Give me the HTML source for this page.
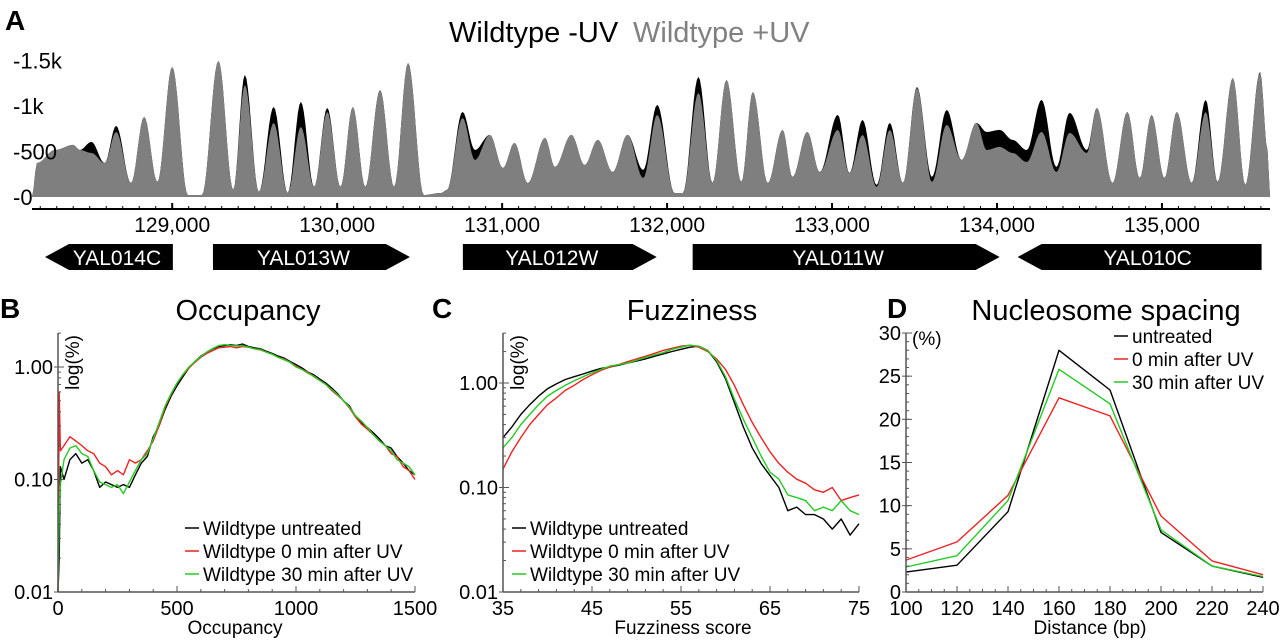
<!DOCTYPE html>
<html><head><meta charset="utf-8"><style>
body{margin:0;background:#fff;}
svg{display:block;font-family:"Liberation Sans",Arial,sans-serif;}
</style></head><body>
<svg id="fig" width="1280" height="640" viewBox="0 0 1280 640" xmlns="http://www.w3.org/2000/svg">
<g id="pA"></g>
<g id="pB"></g>
<g id="pC"></g>
<g id="pD"></g>
</svg>
<script>
// ---------- Panel A data ----------
const trackCoords=[128150,128180,128290,128400,128440,128510,128590,128660,128750,128830,128910,129000,129095,129180,129280,129370,129440,129525,129615,129700,129780,129860,129940,130020,130095,130170,130260,130345,130430,130525,130630,130665,130760,130835,130925,131005,131075,131155,131260,131320,131420,131500,131580,131670,131760,131855,131940,132045,132095,132190,132275,132360,132450,132520,132610,132700,132760,132850,132925,133035,133105,133185,133270,133350,133430,133515,133605,133695,133785,133875,133937,134016,134095,134180,134270,134360,134440,134545,134605,134700,134790,134865,134937,135015,135090,135180,135265,135337,135430,135505,135595,135640,135655];
const plusUV=[0,374,517,572,517,484,374,715,154,880,165,1430,22,22,1496,77,1232,55,814,44,770,110,935,110,990,110,1177,110,1474,22,44,77,869,407,682,319,594,154,649,330,682,352,627,275,682,209,902,44,44,1144,154,1287,165,1155,154,737,220,715,275,737,264,682,110,737,154,1199,165,792,407,814,517,550,484,385,715,275,704,484,979,154,935,209,902,209,935,154,935,165,1309,132,1364,517,0];
const minusUV=[0,374,517,572,517,605,374,781,154,880,165,1430,22,22,1496,77,1342,55,990,44,1045,110,979,110,990,110,1177,110,1474,22,44,77,935,517,682,319,594,154,649,330,682,352,627,275,682,297,1012,44,44,1320,154,1287,165,1155,154,737,220,715,275,902,264,847,132,814,154,1210,220,957,407,814,715,737,627,517,1067,330,924,517,979,154,935,209,902,209,935,154,1067,165,1309,132,1375,517,0];
const trackTicks=[129000,130000,131000,132000,133000,134000,135000];
const trackTickLabels=["129,000","130,000","131,000","132,000","133,000","134,000","135,000"];
const yTicksA=[0,500,1000,1500];
const yTickLabelsA=["-0","-500","-1k","-1.5k"];
const geneNames=["YAL014C","YAL013W","YAL012W","YAL011W","YAL010C"];
const geneStarts=[128229,129247,130762,132155,134125];
const geneEnds=[129004,130441,131937,134016,135604];
const geneStrand=["-","+","+","+","-"];
// ---------- Panel B data ----------
const occX=[0,5,10,25,50,75,100,125,150,175,200,225,250,275,300,325,350,375,400,425,450,475,500,525,550,575,600,625,650,675,700,725,750,775,800,825,850,875,900,925,950,975,1000,1025,1050,1075,1100,1125,1150,1175,1200,1225,1250,1275,1300,1325,1350,1375,1400,1425,1450,1475,1500];
const occUntreated=[0.01,0.02,0.13,0.10,0.15,0.17,0.14,0.15,0.12,0.085,0.095,0.09,0.085,0.09,0.085,0.11,0.14,0.16,0.24,0.3,0.42,0.55,0.68,0.82,0.98,1.12,1.25,1.35,1.45,1.52,1.55,1.58,1.55,1.6,1.52,1.48,1.45,1.38,1.32,1.25,1.2,1.12,1.05,0.98,0.9,0.85,0.78,0.72,0.65,0.58,0.5,0.45,0.36,0.32,0.29,0.26,0.23,0.2,0.19,0.16,0.14,0.12,0.11];
const occUV0=[0.01,0.6,0.18,0.2,0.24,0.22,0.2,0.18,0.17,0.14,0.13,0.11,0.12,0.11,0.15,0.14,0.15,0.18,0.22,0.3,0.44,0.57,0.72,0.85,0.98,1.1,1.22,1.32,1.4,1.48,1.5,1.52,1.48,1.52,1.5,1.45,1.42,1.36,1.3,1.22,1.18,1.1,1.02,0.95,0.9,0.82,0.76,0.7,0.62,0.56,0.5,0.43,0.36,0.31,0.28,0.25,0.22,0.2,0.17,0.16,0.13,0.12,0.10];
const occUV30=[0.01,0.05,0.09,0.15,0.19,0.2,0.17,0.16,0.12,0.095,0.09,0.085,0.09,0.075,0.095,0.12,0.15,0.17,0.23,0.32,0.45,0.58,0.72,0.86,1.0,1.12,1.24,1.36,1.46,1.55,1.58,1.56,1.54,1.55,1.5,1.45,1.43,1.35,1.3,1.22,1.16,1.1,1.0,0.95,0.88,0.83,0.76,0.7,0.63,0.57,0.5,0.44,0.37,0.33,0.29,0.25,0.22,0.2,0.18,0.15,0.14,0.13,0.11];
// ---------- Panel C data ----------
const fuzzX=[35,36,37,38,39,40,41,42,43,44,45,46,47,48,49,50,51,52,53,54,55,56,57,58,59,60,61,62,63,64,65,66,67,68,69,70,71,72,73,74,75];
const fuzzUntreated=[0.30,0.38,0.5,0.62,0.75,0.88,0.98,1.08,1.15,1.22,1.3,1.38,1.42,1.48,1.55,1.62,1.7,1.8,1.9,2.0,2.1,2.2,2.25,2.05,1.6,1.1,0.65,0.38,0.24,0.17,0.13,0.10,0.06,0.065,0.055,0.055,0.05,0.04,0.05,0.035,0.045];
const fuzzUV0=[0.15,0.22,0.3,0.4,0.5,0.62,0.72,0.85,0.95,1.08,1.2,1.32,1.42,1.5,1.6,1.7,1.8,1.92,2.05,2.15,2.25,2.3,2.2,2.0,1.7,1.35,0.95,0.62,0.42,0.3,0.22,0.17,0.14,0.12,0.11,0.095,0.09,0.10,0.075,0.08,0.085];
const fuzzUV30=[0.24,0.3,0.4,0.5,0.62,0.75,0.85,0.95,1.05,1.15,1.25,1.35,1.45,1.5,1.55,1.65,1.75,1.85,1.95,2.1,2.2,2.3,2.25,2.05,1.65,1.15,0.7,0.45,0.3,0.2,0.14,0.12,0.085,0.08,0.075,0.06,0.065,0.06,0.075,0.06,0.055];
// ---------- Panel D data ----------
const spacingX=[100,120,140,160,180,200,220,240];
const spacingUntreated=[2.3,3.1,9.3,28,23.4,6.9,3.0,1.7];
const spacingUV0=[3.7,5.8,11.2,22.5,20.4,8.8,3.6,2.0];
const spacingUV30=[2.9,4.2,10.6,25.8,21.8,7.2,3.0,1.8];
const legendLabelsBC=["Wildtype untreated","Wildtype 0 min after UV","Wildtype 30 min after UV"];
const legendLabelsD=["untreated","0 min after UV","30 min after UV"];

const NS="http://www.w3.org/2000/svg";
function mk(parent,tag,attrs,text){const e=document.createElementNS(NS,tag);for(const k in attrs)e.setAttribute(k,attrs[k]);if(text!==undefined)e.textContent=text;parent.appendChild(e);return e;}

// ===== Panel A =====
(function(){
const g=document.getElementById('pA');
const x0=32,x1=1270,c0=128150,c1=135655,base=197,pxPer=45.5/500;
const X=c=>x0+(c-c0)/(c1-c0)*(x1-x0);
const Y=v=>base-v*pxPer;
let t;
t=mk(g,'text',{x:5,y:30,'font-size':28,'font-weight':'bold'},'A');

t=mk(g,'text',{x:449,y:42,'font-size':29,fill:'#000'},'Wildtype -UV');

t=mk(g,'text',{x:633,y:42,'font-size':29,fill:'#808080'},'Wildtype +UV');

function areaPath(vals){
  let d='M'+X(trackCoords[0]).toFixed(1)+','+base;
  for(let i=0;i<trackCoords.length-1;i++){
    const xa=X(trackCoords[i]),xb=X(trackCoords[i+1]);
    const steps=Math.max(2,Math.round((xb-xa)/1.5));
    for(let s=0;s<=steps;s++){const f=s/steps;const m=(1-Math.cos(Math.PI*f))/2;
      const v=vals[i]+(vals[i+1]-vals[i])*m;d+='L'+(xa+(xb-xa)*f).toFixed(1)+','+Y(v).toFixed(1);}
  }
  d+='L'+X(trackCoords[trackCoords.length-1]).toFixed(1)+','+base+'Z';return d;
}
let p=mk(g,'path',{d:areaPath(minusUV),fill:'#000'});

p=mk(g,'path',{d:areaPath(plusUV),fill:'#7f7f7f'});

yTicksA.forEach((v,i)=>{const tt=mk(g,'text',{x:13,y:Y(v)+8,'font-size':22},yTickLabelsA[i]);
 });
const ax=mk(g,'line',{x1:x0,x2:x1,y1:209,y2:209,stroke:'#000','stroke-width':2});

for(let c=128200;c<=135600;c+=100){mk(g,'line',{x1:X(c),x2:X(c),y1:206,y2:209,stroke:'#000','stroke-width':1});}
trackTicks.forEach((c,i)=>{mk(g,'line',{x1:X(c),x2:X(c),y1:203,y2:209,stroke:'#000','stroke-width':2});
 const tt=mk(g,'text',{x:X(c),y:232,'font-size':21,'text-anchor':'middle'},trackTickLabels[i]);
 });
geneNames.forEach((n,i)=>{const a=X(geneStarts[i]),b=X(geneEnds[i]),y0=244,y1=270,h=13;
 let d;
 if(geneStrand[i]==='+')d=`M${a},${y0}L${b-24},${y0}L${b},${y0+h}L${b-24},${y1}L${a},${y1}Z`;
 else d=`M${a+24},${y0}L${b},${y0}L${b},${y1}L${a+24},${y1}L${a},${y0+h}Z`;
 const gp=mk(g,'path',{d:d,fill:'#000'});
 
 const tt=mk(g,'text',{x:(a+b)/2+(geneStrand[i]==='+'?-8:8),y:265,'font-size':21,fill:'#fff','text-anchor':'middle'},n);
 });
})();

// ===== Generic line panel =====
function linePanel(cfg){
const g=document.getElementById(cfg.id);
const xl=cfg.xl,xr=cfg.xr,yb=cfg.yb,ytop=cfg.ytop;
const X=v=>xl+(v-cfg.xmin)/(cfg.xmax-cfg.xmin)*(xr-xl);
const Y=cfg.Y;
let t=mk(g,'text',{x:cfg.lx,y:318,'font-size':28,'font-weight':'bold'},cfg.letter);

t=mk(g,'text',{x:cfg.tx,y:320,'font-size':29,'text-anchor':'middle'},cfg.title);

const col=['#000','#ee2222','#22cc22'];
cfg.series.forEach((s,k)=>{let d='';cfg.xs.forEach((x,i)=>{d+=(i?'L':'M')+X(x).toFixed(1)+','+Y(s[i]).toFixed(1);});
 const p=mk(g,'path',{d:d,fill:'none',stroke:col[k],'stroke-width':1.4,'stroke-linejoin':'round'});
 });
mk(g,'line',{x1:xl,x2:xl,y1:ytop,y2:yb,stroke:'#555','stroke-width':1.5});
mk(g,'line',{x1:xl,x2:xr,y1:yb,y2:yb,stroke:'#555','stroke-width':1.5});
cfg.minorX.forEach(v=>mk(g,'line',{x1:X(v),x2:X(v),y1:yb,y2:yb-3,stroke:'#555'}));
cfg.minorY.forEach(v=>{if(Y(v)>=ytop)mk(g,'line',{x1:xl,x2:xl+3,y1:Y(v),y2:Y(v),stroke:'#555'});});
cfg.xt.forEach((v,i)=>{mk(g,'line',{x1:X(v),x2:X(v),y1:yb,y2:yb-6,stroke:'#555'});
 const tt=mk(g,'text',{x:X(v),y:yb+23,'font-size':20,'text-anchor':'middle'},cfg.xtl[i]);
 });
cfg.yt.forEach((v,i)=>{mk(g,'line',{x1:xl-4,x2:xl+6,y1:Y(v),y2:Y(v),stroke:'#555'});
 const tt=mk(g,'text',{x:xl-5,y:Y(v)+7,'font-size':20,'text-anchor':'end'},cfg.ytl[i]);
 });
t=mk(g,'text',{x:cfg.xlabX,y:634,'font-size':19,'text-anchor':'middle'},cfg.xlab);

if(cfg.rotY){t=mk(g,'text',{x:0,y:0,'font-size':19,transform:`translate(${xl+21},${ytop+2}) rotate(-90)`,'text-anchor':'end'},'log(%)');}
else{t=mk(g,'text',{x:xl+6,y:ytop+12,'font-size':19},'(%)');}

cfg.legend.forEach((l,k)=>{const y=cfg.legY+k*23;
 mk(g,'line',{x1:cfg.legX,x2:cfg.legX+14,y1:y,y2:y,stroke:col[k],'stroke-width':1.5});
 const tt=mk(g,'text',{x:cfg.legX+18,y:y+7,'font-size':19},l);
 });
}
function logMinors(){const a=[];for(let e=-2;e<=0;e++)for(let m=2;m<=9;m++)a.push(m*Math.pow(10,e));return a;}
function range(a,b,s){const r=[];for(let v=a;v<=b+1e-9;v+=s)r.push(v);return r;}
linePanel({id:'pB',letter:'B',lx:0,title:'Occupancy',tx:248,xl:58,xr:415,yb:592,ytop:333,xmin:0,xmax:1500,
 Y:v=>367-Math.log10(v)*112.5,xs:occX,series:[occUntreated,occUV0,occUV30],names:['untreated','uv0','uv30'],
 xt:[0,500,1000,1500],xtl:['0','500','1000','1500'],yt:[0.01,0.1,1],ytl:['0.01','0.10','1.00'],
 minorX:range(100,1400,100),minorY:logMinors(),xlab:'Occupancy',xlabX:235,rotY:true,legend:legendLabelsBC,legX:185,legY:528});
linePanel({id:'pC',letter:'C',lx:432,title:'Fuzziness',tx:692,xl:503,xr:859,yb:592,ytop:333,xmin:35,xmax:75,
 Y:v=>383-Math.log10(v)*104.5,xs:fuzzX,series:[fuzzUntreated,fuzzUV0,fuzzUV30],names:['untreated','uv0','uv30'],
 xt:[35,45,55,65,75],xtl:['35','45','55','65','75'],yt:[0.01,0.1,1],ytl:['0.01','0.10','1.00'],
 minorX:range(37,73,2),minorY:logMinors(),xlab:'Fuzziness score',xlabX:683,rotY:true,legend:legendLabelsBC,legX:512,legY:528});
linePanel({id:'pD',letter:'D',lx:887,title:'Nucleosome spacing',tx:1106,xl:906,xr:1263,yb:592,ytop:333,xmin:100,xmax:240,
 Y:v=>592-v/30*259,xs:spacingX,series:[spacingUntreated,spacingUV0,spacingUV30],names:['untreated','uv0','uv30'],
 xt:[100,120,140,160,180,200,220,240],xtl:['100','120','140','160','180','200','220','240'],yt:[0,5,10,15,20,25,30],ytl:['0','5','10','15','20','25','30'],
 minorX:range(105,235,5),minorY:range(1,29,1),xlab:'Distance (bp)',xlabX:1090,rotY:false,legend:legendLabelsD,legX:1114,legY:336});
</script>
</body></html>
